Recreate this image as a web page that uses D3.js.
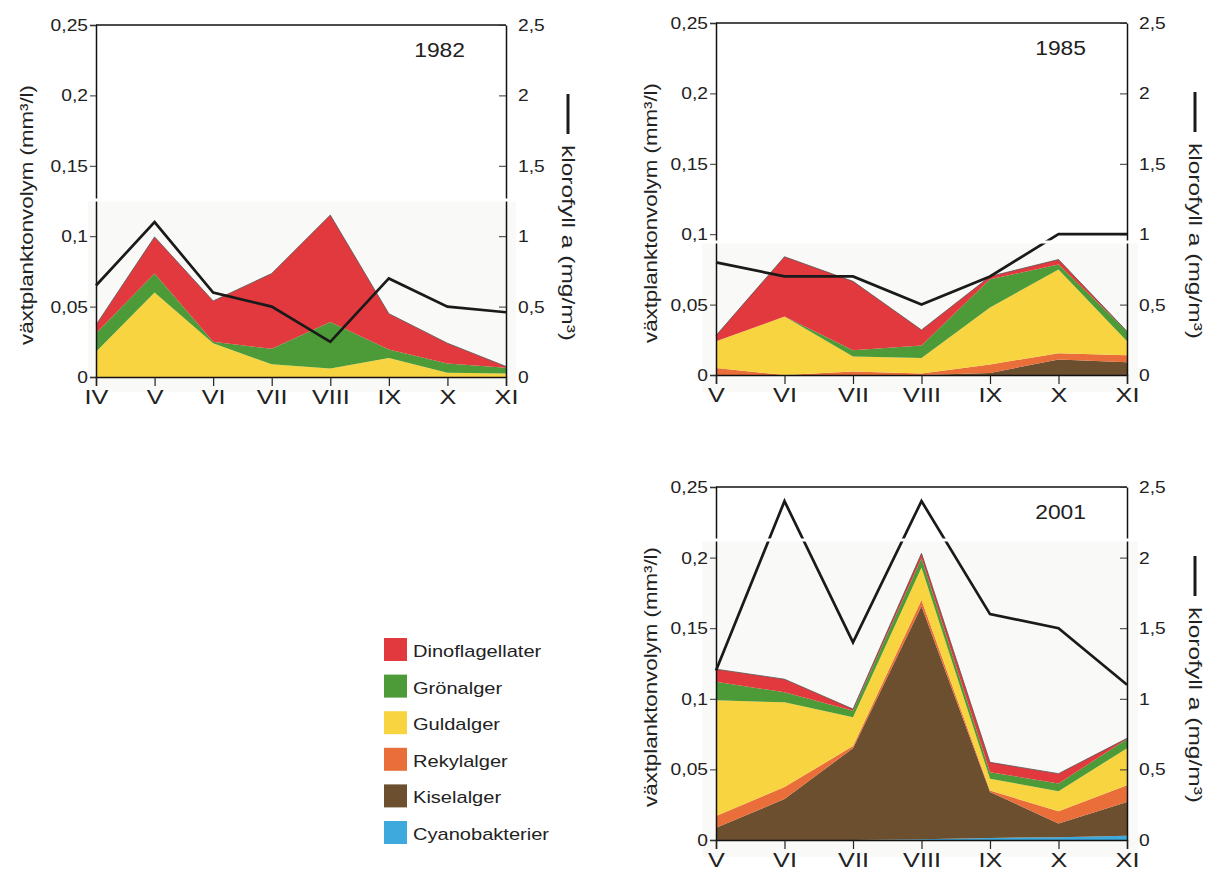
<!DOCTYPE html>
<html>
<head>
<meta charset="utf-8">
<script src="https://cdn.jsdelivr.net/npm/d3@7"></script>
<style>
  body { margin: 0; background: #fff; }
  svg { font-family: "Liberation Sans", Arial, sans-serif; }
</style>
</head>
<body>
<script>
// stack order bottom -> top
const species = ["Cyanobakterier", "Kiselalger", "Rekylalger", "Guldalger", "Grönalger", "Dinoflagellater"];
const legendOrder = ["Dinoflagellater", "Grönalger", "Guldalger", "Rekylalger", "Kiselalger", "Cyanobakterier"];
const colors = {
  "Dinoflagellater": "#e2393f",
  "Grönalger": "#4c9a38",
  "Guldalger": "#f8d540",
  "Rekylalger": "#ea6e3a",
  "Kiselalger": "#6b4f2e",
  "Cyanobakterier": "#3ea9dc"
};

const leftTicks = [0, 0.05, 0.1, 0.15, 0.2, 0.25];
const leftTickLabels = ["0", "0,05", "0,1", "0,15", "0,2", "0,25"];
const rightTicks = [0, 0.5, 1, 1.5, 2, 2.5];
const rightTickLabels = ["0", "0,5", "1", "1,5", "2", "2,5"];

// 1982
const months1982 = ["IV", "V", "VI", "VII", "VIII", "IX", "X", "XI"];
const cyano1982 = [0, 0, 0, 0, 0, 0, 0, 0];
const kisel1982 = [0, 0, 0, 0, 0, 0, 0, 0];
const rekyl1982 = [0, 0, 0, 0, 0, 0, 0, 0];
const guld1982  = [0.018, 0.060, 0.024, 0.009, 0.006, 0.0135, 0.003, 0.0025];
const gron1982  = [0.013, 0.0135, 0.001, 0.011, 0.033, 0.006, 0.0065, 0.004];
const dino1982  = [0.006, 0.026, 0.029, 0.0535, 0.076, 0.0255, 0.0145, 0.001];
const klorofyll1982 = [0.65, 1.1, 0.6, 0.5, 0.25, 0.7, 0.5, 0.46];

// 1985
const months1985 = ["V", "VI", "VII", "VIII", "IX", "X", "XI"];
const cyano1985 = [0, 0, 0, 0, 0, 0, 0];
const kisel1985 = [0, 0, 0, 0, 0.0015, 0.011, 0.009];
const rekyl1985 = [0.005, 0, 0.0025, 0.001, 0.006, 0.0045, 0.005];
const guld1985  = [0.019, 0.0415, 0.0107, 0.011, 0.0405, 0.0595, 0.010];
const gron1985  = [0, 0, 0.0043, 0.009, 0.020, 0.0035, 0.007];
const dino1985  = [0.004, 0.0425, 0.049, 0.011, 0.002, 0.0035, 0];
const klorofyll1985 = [0.8, 0.7, 0.7, 0.5, 0.7, 1.0, 1.0];

// 2001
const months2001 = ["V", "VI", "VII", "VIII", "IX", "X", "XI"];
const cyano2001 = [0, 0, 0, 0.0005, 0.0015, 0.002, 0.003];
const kisel2001 = [0.0087, 0.029, 0.065, 0.165, 0.0325, 0.0097, 0.024];
const rekyl2001 = [0.0083, 0.0085, 0.0015, 0.0045, 0.001, 0.0087, 0.0117];
const guld2001  = [0.082, 0.060, 0.0204, 0.023, 0.0084, 0.0141, 0.0263];
const gron2001  = [0.013, 0.0071, 0.0047, 0.0065, 0.0046, 0.0055, 0.0066];
const dino2001  = [0.009, 0.0093, 0.0011, 0.0035, 0.007, 0.007, 0.0004];
const klorofyll2001 = [1.2, 2.4, 1.4, 2.4, 1.6, 1.5, 1.1];

const width = 1210, height = 879;

const svg = d3.select("body").append("svg")
  .attr("width", width)
  .attr("height", height);

// the scanned lettering is wider than Liberation Sans, so stretch it a bit
function stretch(sel, factor) {
  sel.each(function() {
    const w = this.getComputedTextLength();
    d3.select(this).attr("textLength", w * factor).attr("lengthAdjust", "spacingAndGlyphs");
  });
}

function buildRows(months, cyano, kisel, rekyl, guld, gron, dino) {
  return months.map((m, i) => ({
    month: m,
    "Cyanobakterier": cyano[i],
    "Kiselalger": kisel[i],
    "Rekylalger": rekyl[i],
    "Guldalger": guld[i],
    "Grönalger": gron[i],
    "Dinoflagellater": dino[i]
  }));
}

function drawPanel(p) {
  const g = svg.append("g");

  const x = d3.scalePoint().domain(p.months).range([p.x0, p.x1]);
  const y = d3.scaleLinear().domain([0, 0.25]).range([p.y0, p.yTop]);
  const yR = d3.scaleLinear().domain([0, 2.5]).range([p.y0, p.yTop]);

  // scanned-paper patch behind the lower part
  g.append("rect")
    .attr("x", p.patch[0]).attr("y", p.patch[1])
    .attr("width", p.patch[2] - p.patch[0]).attr("height", p.patch[3] - p.patch[1])
    .attr("fill", "#f9f9f7");

  const series = d3.stack().keys(species)(p.rows);

  const area = d3.area()
    .x(d => x(d.data.month))
    .y0(d => y(d[0]))
    .y1(d => y(d[1]));

  g.append("g")
    .selectAll("path")
    .data(series)
    .join("path")
    .attr("fill", d => colors[d.key])
    .attr("d", area);

  // thin outline along the top of the stack
  g.append("path")
    .datum(series[series.length - 1])
    .attr("fill", "none")
    .attr("stroke", "#555")
    .attr("stroke-width", 0.8)
    .attr("d", d3.line().x(d => x(d.data.month)).y(d => y(d[1])));

  // top frame line
  g.append("line")
    .attr("x1", p.x0).attr("x2", p.x1)
    .attr("y1", p.yTop).attr("y2", p.yTop)
    .attr("stroke", "#111").attr("stroke-width", 1.5);

  const leftAxis = d3.axisLeft(y)
    .tickValues(leftTicks)
    .tickFormat((d, i) => leftTickLabels[i])
    .tickSizeOuter(0).tickSize(6).tickPadding(2);
  const ga = g.append("g").attr("transform", `translate(${p.x0},0)`).call(leftAxis);

  const rightAxis = d3.axisRight(yR)
    .tickValues(rightTicks)
    .tickFormat((d, i) => rightTickLabels[i])
    .tickSizeOuter(0).tickSizeInner(-7).tickPadding(12);
  const gr = g.append("g").attr("transform", `translate(${p.x1},0)`).call(rightAxis);

  const bottomAxis = d3.axisBottom(x).tickSizeOuter(0).tickSize(9).tickPadding(3);
  const gb = g.append("g").attr("transform", `translate(0,${p.y0})`).call(bottomAxis);

  [ga, gr].forEach(a => {
    a.select(".domain").attr("stroke", "#111").attr("stroke-width", 1.5);
    a.selectAll(".tick line").attr("stroke", "#333").attr("stroke-width", 1);
    a.selectAll("text").attr("font-size", 17).attr("fill", "#222")
      .attr("font-family", "'Liberation Sans', Arial, sans-serif")
      .call(stretch, 1.13);
  });
  gb.select(".domain").attr("stroke", "#111").attr("stroke-width", 1.5);
  gb.selectAll(".tick line").attr("stroke", "#222").attr("stroke-width", 1.2);
  gb.selectAll("text").attr("font-size", 21).attr("fill", "#222")
    .attr("font-family", "'Liberation Sans', Arial, sans-serif")
    .call(stretch, 1.2);

  // chlorophyll line
  g.append("path")
    .datum(p.klorofyll)
    .attr("fill", "none")
    .attr("stroke", "#1a1a1a")
    .attr("stroke-width", 2.7)
    .attr("stroke-linejoin", "miter")
    .attr("d", d3.line().x((d, i) => x(p.months[i])).y(d => yR(d)));

  // white gap at the top of the scanned patch
  g.append("line")
    .attr("x1", p.patch[0]).attr("x2", p.patch[2])
    .attr("y1", p.patch[1] - 1).attr("y2", p.patch[1] - 1)
    .attr("stroke", "#fff").attr("stroke-width", 3);

  // year
  g.append("text")
    .attr("x", p.x1 - 41).attr("y", p.yTop + 32)
    .attr("text-anchor", "end")
    .attr("font-size", 19.5).attr("fill", "#222")
    .text(p.year)
    .call(stretch, 1.17);

  // left axis title
  g.append("text")
    .attr("transform", `translate(${p.x0 + p.leftTitleDx},${p.yTop + 190}) rotate(-90)`)
    .attr("text-anchor", "middle")
    .attr("font-size", 19).attr("fill", "#222")
    .attr("textLength", 260).attr("lengthAdjust", "spacingAndGlyphs")
    .text("växtplanktonvolym (mm³/l)");

  // right axis title with its line key
  const rx = p.x1 + p.rightTitleDx;
  g.append("line")
    .attr("x1", rx + 6).attr("x2", rx + 6)
    .attr("y1", p.yTop + 69).attr("y2", p.yTop + 109)
    .attr("stroke", "#1a1a1a").attr("stroke-width", 3);
  g.append("text")
    .attr("transform", `translate(${rx},${p.yTop + 218}) rotate(90)`)
    .attr("text-anchor", "middle")
    .attr("font-size", 19).attr("fill", "#222")
    .attr("textLength", 196).attr("lengthAdjust", "spacingAndGlyphs")
    .text("klorofyll a (mg/m³)");
}

drawPanel({
  year: "1982",
  months: months1982,
  rows: buildRows(months1982, cyano1982, kisel1982, rekyl1982, guld1982, gron1982, dino1982),
  klorofyll: klorofyll1982,
  x0: 96, x1: 506, y0: 377, yTop: 25,
  patch: [88, 201, 516, 392],
  leftTitleDx: -63, rightTitleDx: 56
});

drawPanel({
  year: "1985",
  months: months1985,
  rows: buildRows(months1985, cyano1985, kisel1985, rekyl1985, guld1985, gron1985, dino1985),
  klorofyll: klorofyll1985,
  x0: 716, x1: 1127, y0: 375, yTop: 23,
  patch: [702, 243, 1138, 392],
  leftTitleDx: -59, rightTitleDx: 62
});

drawPanel({
  year: "2001",
  months: months2001,
  rows: buildRows(months2001, cyano2001, kisel2001, rekyl2001, guld2001, gron2001, dino2001),
  klorofyll: klorofyll2001,
  x0: 716, x1: 1127, y0: 840, yTop: 487,
  patch: [702, 541, 1138, 857],
  leftTitleDx: -59, rightTitleDx: 62
});

// legend
const legend = svg.append("g").attr("transform", "translate(384,638)");
const item = legend.selectAll("g")
  .data(legendOrder)
  .join("g")
  .attr("transform", (d, i) => `translate(0,${i * 36.6})`);
item.append("rect")
  .attr("width", 23).attr("height", 23)
  .attr("fill", d => colors[d]);
item.append("text")
  .attr("x", 29).attr("y", 19)
  .attr("font-size", 17).attr("fill", "#222")
  .text(d => d)
  .call(stretch, 1.18);
</script>
</body>
</html>
